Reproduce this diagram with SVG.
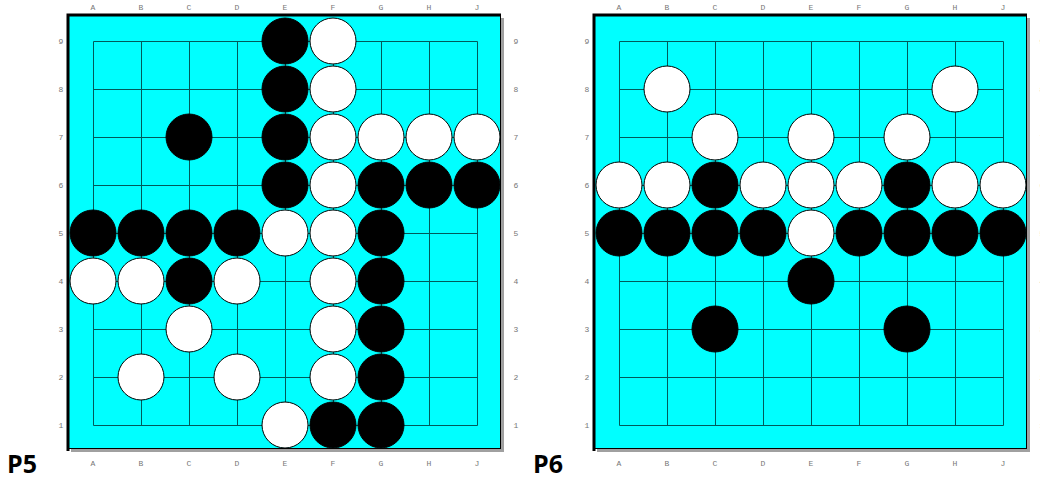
<svg xmlns="http://www.w3.org/2000/svg" width="1040" height="479" viewBox="0 0 1040 479">
<style>
.shadow{fill:#a0a0a0}
.board{fill:#00ffff;stroke:#000;stroke-width:1}
.edge{stroke:#000;stroke-width:3;fill:none}
.grid{stroke:#005a5a;stroke-width:1;fill:none}
.b{fill:#000;stroke:#000;stroke-width:1}
.w{fill:#fff;stroke:#000;stroke-width:1}
.lbl{font-family:"Liberation Mono",monospace;font-size:8px;fill:#777;text-anchor:middle}
.title{font-family:"Open Sans","DejaVu Sans",sans-serif;font-weight:bold;font-size:25px;fill:#000}
</style>
<defs>
<g id="gridlines">
<path class="grid" d="M93.5,41.5H477.5M93.5,89.5H477.5M93.5,137.5H477.5M93.5,185.5H477.5M93.5,233.5H477.5M93.5,281.5H477.5M93.5,329.5H477.5M93.5,377.5H477.5M93.5,425.5H477.5M93.5,41.5V425.5M141.5,41.5V425.5M189.5,41.5V425.5M237.5,41.5V425.5M285.5,41.5V425.5M333.5,41.5V425.5M381.5,41.5V425.5M429.5,41.5V425.5M477.5,41.5V425.5"/>
</g>
<g id="labels">
<text class="lbl" x="93" y="10">A</text><text class="lbl" x="141" y="10">B</text><text class="lbl" x="189" y="10">C</text><text class="lbl" x="237" y="10">D</text><text class="lbl" x="285" y="10">E</text><text class="lbl" x="333" y="10">F</text><text class="lbl" x="381" y="10">G</text><text class="lbl" x="429" y="10">H</text><text class="lbl" x="477" y="10">J</text>
<text class="lbl" x="93" y="466">A</text><text class="lbl" x="141" y="466">B</text><text class="lbl" x="189" y="466">C</text><text class="lbl" x="237" y="466">D</text><text class="lbl" x="285" y="466">E</text><text class="lbl" x="333" y="466">F</text><text class="lbl" x="381" y="466">G</text><text class="lbl" x="429" y="466">H</text><text class="lbl" x="477" y="466">J</text>
<text class="lbl" x="61" y="44">9</text><text class="lbl" x="61" y="92">8</text><text class="lbl" x="61" y="140">7</text><text class="lbl" x="61" y="188">6</text><text class="lbl" x="61" y="236">5</text><text class="lbl" x="61" y="284">4</text><text class="lbl" x="61" y="332">3</text><text class="lbl" x="61" y="380">2</text><text class="lbl" x="61" y="428">1</text>
<text class="lbl" x="516" y="44">9</text><text class="lbl" x="516" y="92">8</text><text class="lbl" x="516" y="140">7</text><text class="lbl" x="516" y="188">6</text><text class="lbl" x="516" y="236">5</text><text class="lbl" x="516" y="284">4</text><text class="lbl" x="516" y="332">3</text><text class="lbl" x="516" y="380">2</text><text class="lbl" x="516" y="428">1</text>
</g>
<g id="frame">
<rect class="shadow" x="71" y="18" width="433" height="434"/>
<rect class="board" x="68.5" y="15.5" width="432" height="433"/>
<path class="edge" d="M68,451V15H501"/>
</g>
</defs>

<g id="P5">
<use href="#frame"/>
<use href="#gridlines"/>
<use href="#labels"/>
<g id="P5-stones">
<circle class="b" cx="285" cy="41" r="23"/><circle class="w" cx="333" cy="41" r="23"/>
<circle class="b" cx="285" cy="89" r="23"/><circle class="w" cx="333" cy="89" r="23"/>
<circle class="b" cx="189" cy="137" r="23"/><circle class="b" cx="285" cy="137" r="23"/><circle class="w" cx="333" cy="137" r="23"/><circle class="w" cx="381" cy="137" r="23"/><circle class="w" cx="429" cy="137" r="23"/><circle class="w" cx="477" cy="137" r="23"/>
<circle class="b" cx="285" cy="185" r="23"/><circle class="w" cx="333" cy="185" r="23"/><circle class="b" cx="381" cy="185" r="23"/><circle class="b" cx="429" cy="185" r="23"/><circle class="b" cx="477" cy="185" r="23"/>
<circle class="b" cx="93" cy="233" r="23"/><circle class="b" cx="141" cy="233" r="23"/><circle class="b" cx="189" cy="233" r="23"/><circle class="b" cx="237" cy="233" r="23"/><circle class="w" cx="285" cy="233" r="23"/><circle class="w" cx="333" cy="233" r="23"/><circle class="b" cx="381" cy="233" r="23"/>
<circle class="w" cx="93" cy="281" r="23"/><circle class="w" cx="141" cy="281" r="23"/><circle class="b" cx="189" cy="281" r="23"/><circle class="w" cx="237" cy="281" r="23"/><circle class="w" cx="333" cy="281" r="23"/><circle class="b" cx="381" cy="281" r="23"/>
<circle class="w" cx="189" cy="329" r="23"/><circle class="w" cx="333" cy="329" r="23"/><circle class="b" cx="381" cy="329" r="23"/>
<circle class="w" cx="141" cy="377" r="23"/><circle class="w" cx="237" cy="377" r="23"/><circle class="w" cx="333" cy="377" r="23"/><circle class="b" cx="381" cy="377" r="23"/>
<circle class="w" cx="285" cy="425" r="23"/><circle class="b" cx="333" cy="425" r="23"/><circle class="b" cx="381" cy="425" r="23"/>
</g>
<text class="title" x="7" y="473">P5</text>
</g>

<g id="P6" transform="translate(526,0)">
<use href="#frame"/>
<use href="#gridlines"/>
<use href="#labels"/>
<g id="P6-stones">
<circle class="w" cx="141" cy="89" r="23"/><circle class="w" cx="429" cy="89" r="23"/>
<circle class="w" cx="189" cy="137" r="23"/><circle class="w" cx="285" cy="137" r="23"/><circle class="w" cx="381" cy="137" r="23"/>
<circle class="w" cx="93" cy="185" r="23"/><circle class="w" cx="141" cy="185" r="23"/><circle class="b" cx="189" cy="185" r="23"/><circle class="w" cx="237" cy="185" r="23"/><circle class="w" cx="285" cy="185" r="23"/><circle class="w" cx="333" cy="185" r="23"/><circle class="b" cx="381" cy="185" r="23"/><circle class="w" cx="429" cy="185" r="23"/><circle class="w" cx="477" cy="185" r="23"/>
<circle class="b" cx="93" cy="233" r="23"/><circle class="b" cx="141" cy="233" r="23"/><circle class="b" cx="189" cy="233" r="23"/><circle class="b" cx="237" cy="233" r="23"/><circle class="w" cx="285" cy="233" r="23"/><circle class="b" cx="333" cy="233" r="23"/><circle class="b" cx="381" cy="233" r="23"/><circle class="b" cx="429" cy="233" r="23"/><circle class="b" cx="477" cy="233" r="23"/>
<circle class="b" cx="285" cy="281" r="23"/>
<circle class="b" cx="189" cy="329" r="23"/><circle class="b" cx="381" cy="329" r="23"/>
</g>
<text class="title" x="7" y="473">P6</text>
</g>
<g id="connectors"/>
</svg>
